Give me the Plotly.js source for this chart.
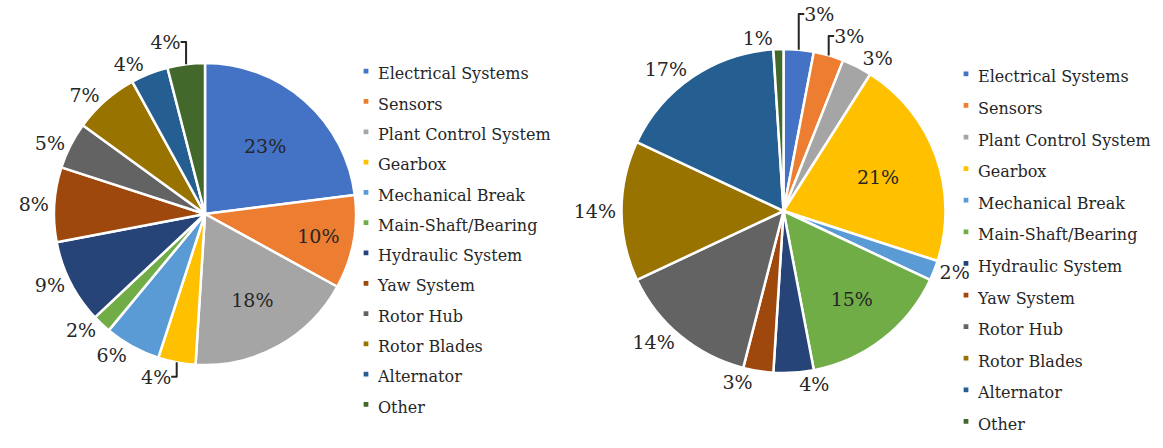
<!DOCTYPE html>
<html>
<head>
<meta charset="utf-8">
<script src="https://cdn.plot.ly/plotly-3.0.1.min.js"></script>
<style>
  html, body { margin: 0; padding: 0; background: #fff; }
  #chart { width: 1163px; height: 448px; }
  text.legendtext, text.legend2text { font-size: 16px !important; }
  g.legendpoints path { transform: translate(28px, 0px) scale(0.5); }
</style>
</head>
<body>
<div id="chart"></div>
<script>
const categories = [
  "Electrical Systems", "Sensors", "Plant Control System", "Gearbox",
  "Mechanical Break", "Main-Shaft/Bearing", "Hydraulic System", "Yaw System",
  "Rotor Hub", "Rotor Blades", "Alternator", "Other"
];
const leftValues  = [23, 10, 18, 4, 6, 2, 9, 8, 5, 7, 4, 4];
const rightValues = [3, 3, 3, 21, 2, 15, 4, 3, 14, 14, 17, 1];
const sliceColors = [
  "#4472C4", "#ED7D31", "#A5A5A5", "#FFC000", "#5B9BD5", "#70AD47",
  "#264478", "#9E480E", "#636363", "#997300", "#255E91", "#43682B"
];
const leftTextPos  = ["inside","inside","inside","outside","outside","outside","outside","outside","outside","outside","outside","outside"];
const rightTextPos = ["outside","outside","outside","inside","outside","inside","outside","outside","outside","outside","outside","outside"];

const W = 1163, H = 448;
const FONT = "DejaVu Serif, Liberation Serif, serif";

function pie(values, textpos, dom, legendName, group) {
  return {
    type: "pie",
    labels: categories,
    values: values,
    sort: false,
    direction: "clockwise",
    rotation: 0,
    marker: { colors: sliceColors, line: { color: "#ffffff", width: 2.5 } },
    texttemplate: "%{percent:.0%}",
    textposition: textpos,
    insidetextorientation: "horizontal",
    textfont: { family: FONT, size: 19, color: "#262626" },
    domain: dom,
    legend: legendName,
    legendgroup: group,
    hoverinfo: "label+percent"
  };
}

const data = [
  pie(leftValues, leftTextPos,
      { x: [54 / W, 356 / W], y: [1 - 365 / H, 1 - 63 / H] }, "legend", "left"),
  pie(rightValues, rightTextPos,
      { x: [620 / W, 947 / W], y: [1 - 373 / H, 1 - 49 / H] }, "legend2", "right")
];

const layout = {
  width: W, height: H,
  margin: { l: 0, r: 0, t: 0, b: 0, autoexpand: false },
  paper_bgcolor: "#ffffff",
  font: { family: FONT, color: "#262626" },
  showlegend: true,
  legend: {
    x: 338 / W, y: 1 - 51 / H, xanchor: "left", yanchor: "top",
    font: { family: FONT, size: 21, color: "#262626" },
    bgcolor: "rgba(0,0,0,0)", borderwidth: 0
  },
  legend2: {
    x: 938 / W, y: 1 - 53 / H, xanchor: "left", yanchor: "top",
    font: { family: FONT, size: 22, color: "#262626" },
    bgcolor: "rgba(0,0,0,0)", borderwidth: 0
  }
};

Plotly.newPlot("chart", data, layout, { displayModeBar: false, staticPlot: true });
</script>
</body>
</html>
